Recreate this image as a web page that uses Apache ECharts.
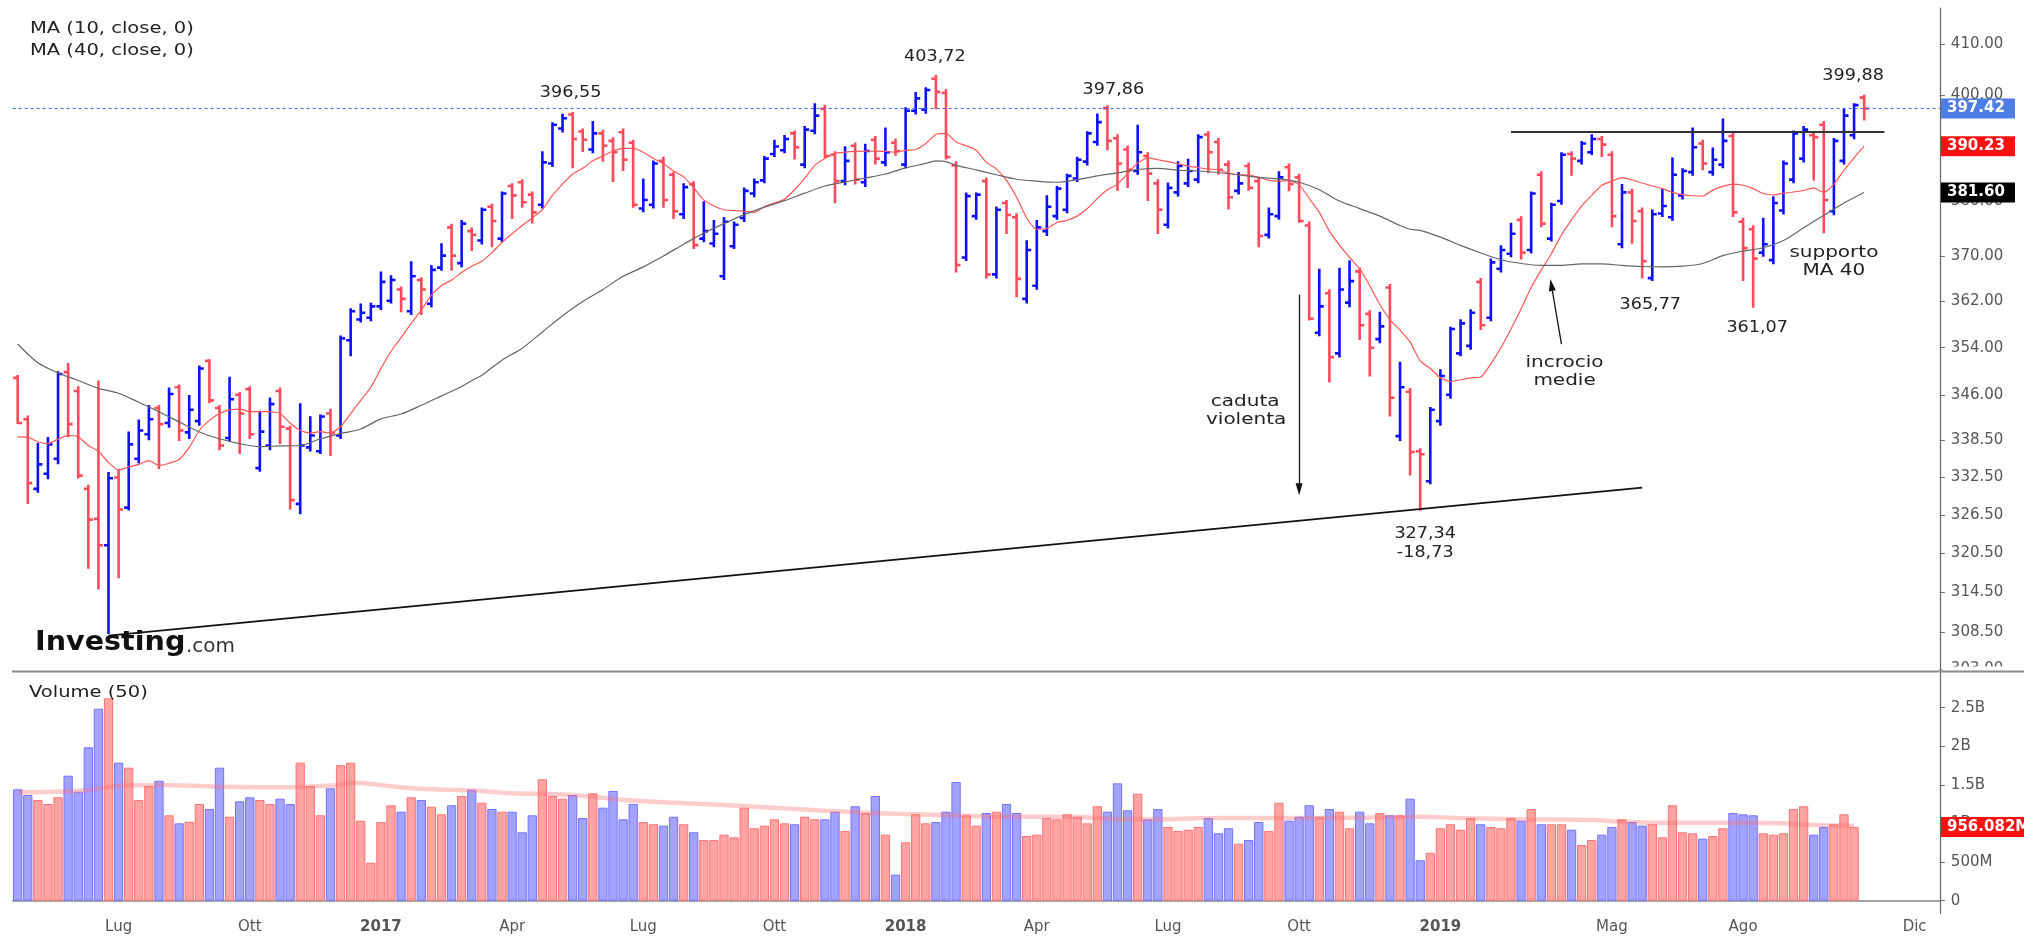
<!DOCTYPE html>
<html><head><meta charset="utf-8">
<script src="https://cdn.jsdelivr.net/npm/echarts@6/dist/echarts.min.js"></script>
<style>html,body{margin:0;padding:0;background:#fff}#c{width:2024px;height:937px}</style>
</head><body><div id="c"></div>
<script>
// ---------- DATA (weekly bars, Monday dates) ----------
const startDate = '2016-04-25';
const categoryCount = 191;
const open = [348.88,341.97,330.65,333.07,335.50,349.84,346.67,330.65,325.88,321.76,
332.47,327.66,335.50,339.49,343.84,341.35,347.30,339.80,341.66,351.75,
343.84,338.87,346.04,346.99,333.98,337.65,346.67,340.42,328.25,337.34,
336.72,342.91,339.30,355.29,358.86,359.18,361.15,362.14,364.12,360.29,
365.78,361.61,367.98,375.21,368.78,374.53,372.83,378.98,373.17,382.79,
383.49,381.20,379.33,386.99,393.59,396.25,393.02,389.60,392.66,391.24,
392.88,390.88,378.64,379.33,387.48,384.88,377.60,383.14,373.17,372.29,
366.44,371.81,376.92,381.40,383.84,388.75,389.46,392.66,386.78,393.16,
397.34,388.61,383.70,390.31,383.49,391.45,387.20,390.88,386.78,396.97,
397.19,403.16,400.39,386.64,369.79,377.26,383.70,366.78,379.67,377.04,
362.47,364.78,374.53,377.26,378.43,384.19,387.34,391.02,397.48,391.73,
389.60,385.58,388.40,383.28,375.69,381.61,383.28,383.98,392.45,391.02,
386.78,381.89,386.50,383.70,373.85,377.26,386.29,384.39,375.55,356.58,
363.46,353.03,361.81,367.31,359.84,355.48,364.45,339.18,346.54,336.72,
331.86,341.66,346.04,353.03,354.32,365.45,359.18,367.78,370.46,376.58,
371.13,384.88,373.17,380.02,388.75,387.48,389.10,391.59,388.61,372.15,
381.61,378.15,366.11,377.74,377.06,381.06,385.37,390.74,385.37,386.78,
392.16,376.24,374.87,370.66,369.32,378.29,383.98,387.90,392.30,394.31,
378.15,387.48,392.30,399.51];
const high = [349.20,342.41,337.95,338.87,349.84,351.24,347.30,331.14,348.25,333.19,
333.68,339.80,341.78,344.16,344.16,347.11,347.61,345.85,350.79,351.88,
344.16,348.88,346.35,347.30,343.22,345.41,347.11,340.73,344.47,342.28,
342.59,343.53,355.93,360.63,361.48,361.61,367.11,366.45,364.45,368.92,
366.11,368.25,372.15,375.69,376.37,375.01,378.64,379.33,381.61,383.14,
383.84,381.61,389.10,394.60,396.20,396.55,393.38,394.81,393.16,391.73,
393.38,391.24,383.98,387.34,388.05,385.23,383.14,383.49,379.81,376.37,
376.92,376.10,382.31,383.98,388.19,391.24,392.16,393.02,393.87,398.21,
397.92,389.10,390.03,390.74,390.52,391.95,393.59,391.45,397.48,400.39,
401.33,403.72,400.97,387.20,381.40,381.40,384.19,378.84,380.02,377.60,
372.69,376.37,380.92,382.59,384.88,388.05,392.88,396.25,397.86,392.30,
390.17,394.10,388.89,383.84,383.28,387.20,387.69,392.30,392.88,391.59,
387.34,385.23,386.99,384.19,378.64,385.37,386.78,384.88,376.10,367.58,
363.99,367.78,369.12,367.78,360.30,360.04,364.91,351.43,346.99,337.03,
343.84,350.16,357.42,358.73,360.49,365.98,369.45,371.81,375.89,377.04,
381.61,385.37,379.53,388.89,389.10,391.02,392.30,391.95,389.10,383.00,
382.10,378.64,378.29,382.10,387.90,385.93,393.59,391.24,389.81,395.31,
392.66,376.78,375.41,376.78,380.71,387.34,393.02,393.87,392.66,394.81,
391.59,397.19,398.21,399.88];
const low = [341.35,328.38,330.17,332.35,334.77,339.18,332.47,318.26,315.09,308.40,
316.82,327.36,334.89,338.69,333.98,340.73,338.57,338.87,341.04,344.78,
337.03,338.44,336.42,338.87,333.56,337.03,338.07,327.54,326.76,336.85,
336.42,336.11,338.87,352.71,358.53,358.73,360.69,361.81,360.29,359.84,
359.84,361.15,367.58,367.58,368.24,371.13,372.29,371.81,372.69,376.92,
378.98,376.10,378.84,386.50,393.02,386.29,389.32,389.10,387.48,383.70,
385.79,378.98,378.15,378.84,378.98,376.92,376.92,371.47,372.69,371.81,
365.98,371.47,376.37,380.92,383.49,388.40,389.10,387.90,386.29,392.66,
388.19,379.81,383.14,383.28,382.79,386.99,386.64,388.61,386.29,396.47,
396.61,397.48,387.90,367.31,369.32,376.78,366.24,366.24,374.19,362.93,
361.81,364.25,373.85,376.78,377.95,383.70,386.78,390.52,389.67,382.10,
382.59,385.09,380.22,374.19,375.21,381.06,382.79,383.49,385.37,385.09,
378.64,381.40,382.10,371.81,373.37,376.78,382.03,376.24,358.86,356.13,
348.25,352.52,361.15,355.48,349.26,354.96,342.59,338.57,332.95,327.34,
331.56,341.04,345.54,352.71,353.81,357.23,358.73,367.31,369.99,369.59,
370.66,375.41,372.83,379.53,384.88,386.99,388.75,388.40,375.41,371.61,
372.42,366.24,365.77,377.26,376.58,380.50,384.88,385.93,384.88,386.29,
377.26,365.78,361.07,370.12,368.78,377.74,383.49,387.34,383.98,374.33,
377.60,386.99,391.73,395.31];
const close = [341.35,331.56,334.59,337.83,349.52,341.16,332.77,325.76,321.76,332.35,
327.36,337.83,340.11,341.97,341.16,346.17,340.11,343.53,350.47,345.10,
337.65,345.28,342.91,339.49,339.92,344.47,340.73,328.85,337.65,339.30,
342.41,339.68,355.61,360.30,360.04,361.15,365.45,365.78,362.47,366.45,
364.12,367.58,370.12,370.12,375.89,373.85,378.43,376.37,381.40,381.06,
379.81,377.95,387.20,394.31,395.53,391.59,391.45,392.66,390.31,389.10,
387.69,379.33,380.22,386.99,380.22,378.15,382.59,372.01,374.53,374.05,
376.24,375.69,381.89,383.49,387.90,390.17,391.59,390.03,393.38,396.04,
388.40,383.70,387.48,383.98,389.32,387.90,389.10,389.32,396.97,399.36,
400.97,400.61,388.19,368.45,380.92,381.20,366.78,378.43,377.46,365.98,
371.13,375.21,378.98,382.31,384.67,387.69,392.66,394.81,391.24,386.99,
385.79,389.10,385.09,378.43,382.45,386.50,385.58,391.95,389.10,385.79,
380.71,383.28,382.45,373.65,377.60,384.39,383.14,376.37,358.99,361.15,
352.39,364.12,365.58,357.88,353.99,357.68,345.54,347.30,336.60,336.23,
343.53,349.20,357.23,358.20,360.04,357.88,368.92,371.13,374.05,370.66,
381.40,375.89,379.33,388.61,387.90,390.74,391.59,390.52,377.26,381.61,
376.37,369.12,377.60,379.12,384.88,385.58,390.03,386.99,387.69,391.24,
377.95,371.47,369.59,372.15,379.67,386.99,392.66,393.38,391.95,380.22,
391.24,396.04,398.06,397.42];
const ma10 = [339.06,339.00,338.26,337.95,338.69,339.30,339.06,337.65,336.72,334.89,
333.68,334.16,334.59,335.20,334.41,334.77,335.38,337.34,340.11,341.78,
342.91,343.53,343.66,343.22,343.22,343.22,342.91,341.35,340.11,339.68,
339.92,339.68,340.73,342.91,345.10,347.30,350.47,353.35,355.74,358.20,
360.50,363.13,364.78,365.78,367.11,368.24,369.12,370.66,372.49,374.05,
375.55,376.92,378.43,381.06,383.14,385.02,386.08,387.48,388.40,389.32,
389.81,389.81,389.10,387.90,386.99,385.58,384.53,382.45,380.23,379.12,
378.43,378.29,378.15,377.95,378.98,379.67,380.37,382.10,384.19,386.64,
387.90,388.89,389.10,389.24,389.32,389.32,389.24,389.10,389.46,389.60,
390.74,392.45,392.66,391.02,390.31,389.46,387.20,385.93,383.84,380.71,
376.92,374.87,375.01,376.10,376.51,377.26,378.64,380.50,382.10,383.14,
385.09,387.06,388.05,387.69,387.34,386.92,386.50,386.22,385.93,385.86,
385.16,384.88,384.81,384.39,383.84,383.70,383.77,383.00,380.50,377.95,
374.53,372.01,369.79,367.78,364.78,361.48,358.86,357.03,354.96,351.75,
350.47,348.88,348.25,348.56,348.88,349.01,351.24,353.99,357.23,360.69,
364.45,367.58,370.46,373.85,376.58,379.12,381.06,382.93,383.70,384.33,
383.91,383.35,382.79,382.31,381.61,381.20,380.99,380.92,382.03,382.72,
383.14,382.93,382.31,381.40,381.13,381.47,381.68,381.96,382.45,381.61,
383.14,385.72,388.05,390.23];
// MA40 read at every other bar: [bar index, value]
const ma40 = [[0,354.64],[2,351.43],[4,349.71],[6,348.43],[8,347.11],[10,346.29],[12,344.78],[14,343.22],[16,341.53],[18,339.86],
[20,338.75],[22,337.95],[24,337.46],[26,337.59],[28,337.65],[30,338.75],[32,339.61],[34,340.36],[36,342.03],[38,342.84],
[40,344.28],[42,345.85],[44,347.43],[45,348.43],[46,349.33],[48,351.88],[50,353.93],[52,356.71],[54,359.51],[56,362.01],
[58,364.12],[60,366.44],[62,368.11],[64,370.06],[66,372.15],[68,374.19],[70,375.89],[72,377.53],[74,378.91],[76,380.09],
[78,381.47],[80,382.79],[82,383.56],[84,384.26],[86,385.02],[88,386.15],[90,386.99],[91,387.48],[92,387.34],[93,386.64],
[95,385.79],[97,384.88],[99,384.05],[101,383.70],[103,383.49],[105,383.98],[107,384.67],[109,385.23],[111,385.86],[113,386.08],
[115,385.72],[117,385.58],[119,385.30],[121,384.88],[123,384.39],[125,384.12],[127,383.49],[129,382.10],[131,380.02],[133,378.64],
[135,377.26],[137,375.55],[138,374.87],[139,374.67],[141,373.44],[143,371.95],[145,370.60],[147,369.39],[149,368.72],[151,368.38],
[153,368.38],[155,368.65],[157,368.65],[159,368.38],[161,368.18],[163,368.11],[165,368.24],[167,368.72],[169,370.12],[171,370.93],
[173,371.54],[175,372.83],[177,375.14],[179,377.40],[181,379.67],[183,381.60]];
// volume in billions
const volume = [1.443,1.369,1.304,1.253,1.339,1.619,1.412,1.987,2.487,2.621,
1.788,1.723,1.304,1.486,1.554,1.106,1.002,1.023,1.253,1.188,
1.723,1.088,1.287,1.339,1.304,1.253,1.321,1.253,1.788,1.486,
1.106,1.456,1.754,1.788,1.036,0.492,1.019,1.236,1.153,1.339,
1.304,1.218,1.119,1.236,1.356,1.438,1.269,1.188,1.153,1.153,
0.886,1.106,1.572,1.356,1.321,1.369,1.071,1.391,1.205,1.421,
1.054,1.253,1.019,0.990,0.972,1.088,0.990,0.886,0.786,0.786,
0.855,0.821,1.205,0.938,0.972,1.054,1.002,0.990,1.088,1.054,
1.054,1.153,0.903,1.223,1.136,1.356,0.855,0.337,0.756,1.119,
1.002,1.019,1.153,1.538,1.106,0.972,1.136,1.153,1.253,1.136,
0.838,0.855,1.071,1.054,1.119,1.088,1.002,1.223,1.153,1.520,
1.171,1.386,1.054,1.188,0.955,0.903,0.920,0.955,1.071,0.873,
0.938,0.738,0.786,1.019,0.903,1.269,1.036,1.088,1.236,1.088,
1.188,1.153,0.938,1.153,1.002,1.136,1.106,1.106,1.321,0.523,
0.622,0.938,0.990,0.920,1.071,0.990,0.955,0.938,1.071,1.036,
1.188,0.990,0.990,0.990,0.920,0.721,0.786,0.855,0.955,1.054,
1.019,0.972,0.990,0.821,1.236,0.886,0.873,0.803,0.838,0.938,
1.136,1.119,1.106,0.873,0.855,0.873,1.188,1.223,0.855,0.955,
0.990,1.119,0.956082];
const volMA50 = [[0,1.404],[5,1.413],[7,1.434],[10,1.486],[14,1.499],[20,1.477],[27,1.469],[30,1.486],[32,1.499],[33,1.529],
[36,1.499],[39,1.456],[46,1.421],[49,1.391],[53,1.382],[57,1.348],[60,1.304],[65,1.269],[68,1.253],[72,1.227],
[76,1.196],[80,1.166],[84,1.140],[88,1.123],[93,1.106],[97,1.088],[104,1.088],[110,1.054],[114,1.054],[117,1.067],
[123,1.071],[130,1.071],[136,1.080],[139,1.088],[143,1.071],[149,1.054],[156,1.045],[159,1.024],[162,1.011],[169,1.011],
[172,1.011],[175,1.002],[178,0.981],[182,0.972]];
const xLabelDates = ['2016-07-04','2016-10-03','2017-01-02','2017-04-03','2017-07-03','2017-10-02','2018-01-01','2018-04-02','2018-07-02','2018-10-01','2019-01-07','2019-05-06','2019-08-05','2019-12-02'];
const xLabelTexts = ['Lug','Ott','2017','Apr','Lug','Ott','2018','Apr','Lug','Ott','2019','Mag','Ago','Dic'];
const priceTicks = [303,308.5,314.5,320.5,326.5,332.5,338.5,346,354,362,370,380,390,400,410];
const volTicks = [0,0.5,1,1.5,2,2.5];
const lastClose = 397.42, lastMA10 = 390.23, lastMA40 = 381.60, lastVolume = 0.956082;
// annotations: [text, bar index, price, dx, dy]
const notes = [
  ['396,55',55,396.55,-2,-20],['403,72',91,403.72,-1,-19],['397,86',108,397.86,6,-16],
  ['399,88',183,399.88,-11,-20],['365,77',162,365.77,-2,25],['361,07',172,361.07,4,21],
  ['327,34',139,327.34,5,24],['-18,73',139,327.34,5,43]
];
const words = [
  ['caduta',127,344.9,-54],['violenta',127,341.8,-53],
  ['incrocio',154,351.4,-7],['medie',154,348.4,-7],
  ['supporto',180,370.7,0],['MA 40',180,367.4,0]
];

// ---------- BUILD ----------
const cats = [];
for (let k = 0; k < categoryCount; k++) {
  const t = Date.UTC(2016,3,25) + k*7*86400000;
  cats.push(new Date(t).toISOString().slice(0,10));
}
const labelMap = {}; xLabelDates.forEach((d,i)=>labelMap[d]=xLabelTexts[i]);
const BLUE = '#0f0fff', RED = '#ff4a5c';
const FONT = 'DejaVu Sans';
const ohlc = open.map((o,i)=>[i,o,high[i],low[i],close[i]]);
const volData = volume.map((v,i)=>{
  const up = close[i] >= open[i];
  return {value: v, itemStyle: up ? {color:'#ffa3a3', borderColor:'#ff7272', borderWidth:1}
                                   : {color:'#a3a3ff', borderColor:'#7272ff', borderWidth:1}};
});

function renderOHLC(params, api) {
  const i = api.value(0);
  const o = api.value(1), h = api.value(2), l = api.value(3), c = api.value(4);
  const pH = api.coord([i,h]), pL = api.coord([i,l]), pO = api.coord([i,o]), pC = api.coord([i,c]);
  const st = {stroke: c >= o ? BLUE : RED, lineWidth: 2.6};
  const x = pH[0];
  return {type:'group', children:[
    {type:'line', shape:{x1:x,y1:pH[1]-1,x2:x,y2:pL[1]+1}, style:st},
    {type:'line', shape:{x1:x-4.5,y1:pO[1],x2:x,y2:pO[1]}, style:st},
    {type:'line', shape:{x1:x,y1:pC[1],x2:x+4.5,y2:pC[1]}, style:st}
  ]};
}

const gridLeft = 12.65, gridRight = 84.16;
const chart = echarts.init(document.getElementById('c'), null, {renderer:'canvas'});
const labelInterval = (idx, val) => labelMap[val] !== undefined;
const option = {
  animation:false,
  backgroundColor:'#ffffff',
  grid:[
    {left:gridLeft, right:gridRight, top:8, height:663.5},
    {left:gridLeft, right:gridRight, top:671.5, height:241.8}
  ],
  xAxis:[
    {type:'category', gridIndex:0, data:cats, boundaryGap:true, show:false},
    {type:'category', gridIndex:1, data:cats, boundaryGap:true,
     axisLine:{lineStyle:{color:'#888', width:1.5}},
     axisTick:{interval:labelInterval, alignWithLabel:true, length:4, lineStyle:{color:'#888'}},
     axisLabel:{interval:labelInterval, margin:6, color:'#555', fontSize:15, fontFamily:FONT,
       formatter:(v)=>{const t=labelMap[v]; return /^\d{4}$/.test(t) ? '{y|'+t+'}' : t;},
       rich:{y:{fontWeight:'bold', fontSize:15, fontFamily:FONT, color:'#555'}}},
     splitLine:{show:false}}
  ],
  yAxis:[
    {type:'log', logBase:10, gridIndex:0, position:'right', min:302.7, max:417.2,
     axisLine:{show:true, lineStyle:{color:'#666', width:1.2}},
     axisTick:{show:true, customValues:priceTicks, length:5, lineStyle:{color:'#666'}},
     axisLabel:{customValues:priceTicks, formatter:(v)=>Number(v).toFixed(2), margin:11, color:'#555', fontSize:15, fontFamily:FONT,
       verticalAlign:'middle', verticalAlignMinLabel:'middle', verticalAlignMaxLabel:'middle'},
     splitLine:{show:false}},
    {type:'value', gridIndex:1, position:'right', min:-0.1632, max:2.969,
     axisLine:{show:true, lineStyle:{color:'#666', width:1.2}},
     axisTick:{show:true, customValues:volTicks, length:5, lineStyle:{color:'#666'}},
     axisLabel:{customValues:volTicks, margin:11, color:'#555', fontSize:15, fontFamily:FONT,
       formatter:(v)=> v===0 ? '0' : (v<1 ? Math.round(v*1000)+'M' : (+v.toFixed(2))+'B')},
     splitLine:{show:false}}
  ],
  series:[
    {type:'custom', name:'ohlc', xAxisIndex:0, yAxisIndex:0, data:ohlc, encode:{x:0, y:[1,2,3,4]},
     renderItem:renderOHLC, z:2, clip:true,
     markLine:{silent:true, symbol:['none','none'], label:{show:false},
       lineStyle:{type:[3,3], color:'#3d6cf0', width:1.2},
       data:[{yAxis:lastClose}]}},
    {type:'line', name:'MA10', xAxisIndex:0, yAxisIndex:0, data:ma10, showSymbol:false, symbol:'none',
     smooth:0.2, lineStyle:{color:'#ff5555', width:1.2}, z:3},
    {type:'line', name:'MA40', xAxisIndex:0, yAxisIndex:0, data:ma40, showSymbol:false, symbol:'none',
     smooth:0.3, lineStyle:{color:'#666', width:1.2}, z:3,
     markLine:{silent:true, symbol:['none','none'], label:{show:false}, z:5,
       data:[
         [{coord:[cats[9],308.0], lineStyle:{color:'#111', width:1.6, type:'solid'}},{coord:[cats[161],330.85]}],
         [{coord:[cats[148],393.0], lineStyle:{color:'#333', width:2.2, type:'solid'}},{coord:[cats[185],393.0]}],
         [{coord:[cats[127],363.2], symbol:'none', lineStyle:{color:'#111', width:1.3, type:'solid'}},{coord:[cats[127],330.6], symbol:'triangle', symbolSize:[7,12]}],
         [{coord:[cats[153],354.6], symbol:'none', lineStyle:{color:'#111', width:1.3, type:'solid'}},{coord:[cats[152],364.9], symbol:'triangle', symbolSize:[7,12]}]
       ]}},
    {type:'bar', name:'Volume', xAxisIndex:1, yAxisIndex:1, data:volData, barCategoryGap:'8%', z:2},
    {type:'line', name:'VolMA', xAxisIndex:1, yAxisIndex:1, data:volMA50, showSymbol:false, symbol:'none',
     smooth:0.4, lineStyle:{color:'rgba(255,110,110,0.35)', width:4.5}, z:3}
  ]
};
chart.setOption(option);

// ---------- annotations positioned through the chart's scales ----------
function P(idx, val){ return chart.convertToPixel({gridIndex:0}, [cats[idx], val]); }
function PY(val, axis){ return chart.convertToPixel({yAxisIndex:axis}, val); }
const g = [];
const txt = (x,y,text,font,opts={}) => ({type:'text', x, y, z:50, scaleX:opts.sx||1,
  style:{text, font, fill:opts.fill||'#222', align:opts.align||'center', verticalAlign:'middle'}});
g.push(txt(30,29,'MA (10, close, 0)','15px "'+FONT+'"',{align:'left',sx:1.3}));
g.push(txt(30,51,'MA (40, close, 0)','15px "'+FONT+'"',{align:'left',sx:1.3}));
g.push(txt(29,693,'Volume (50)','15px "'+FONT+'"',{align:'left',sx:1.3}));
g.push(txt(35,643,'Investing','bold 26px "'+FONT+'"',{align:'left',sx:1.1,fill:'#111'}));
g.push(txt(186,647,'.com','19px "'+FONT+'"',{align:'left',sx:1.05,fill:'#333'}));
notes.forEach(n=>{ const p=P(n[1],n[2]); g.push(txt(p[0]+n[3],p[1]+n[4],n[0],'16px "'+FONT+'"',{sx:1.1})); });
words.forEach(w=>{ const p=P(w[1],w[2]); g.push(txt(p[0]+w[3],p[1],w[0],'16px "'+FONT+'"',{sx:1.25})); });
// cover lower half of the clipped 303.00 label, then panel divider
g.push({type:'rect', z:60, shape:{x:1942, y:666.5, width:82, height:24}, style:{fill:'#fff'}});
g.push({type:'line', z:61, shape:{x1:12, y1:671.5, x2:2024, y2:671.5}, style:{stroke:'#8a8a8a', lineWidth:2}});
// price tags
const tag = (val, axis, text, bg, w) => {
  const y = PY(val, axis);
  g.push({type:'rect', z:70, shape:{x:1941, y:y-10, width:w, height:20}, style:{fill:bg}});
  g.push({type:'text', z:71, x:1947, y:y, style:{text, font:'bold 15px "'+FONT+'"', fill:'#fff', align:'left', verticalAlign:'middle'}});
};
tag(lastClose,0,lastClose.toFixed(2),'#4f7de8',74);
tag(lastMA10,0,lastMA10.toFixed(2),'#ff1010',74);
tag(lastMA40,0,lastMA40.toFixed(2),'#000000',74);
tag(lastVolume,1,(lastVolume*1000).toFixed(3)+'M','#ff1010',90);
chart.setOption({graphic:g});
</script>
</body></html>
